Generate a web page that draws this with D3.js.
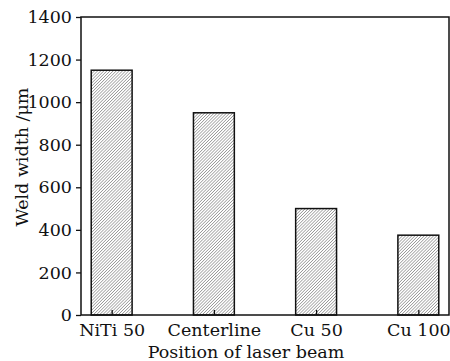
<!DOCTYPE html>
<html>
<head>
<meta charset="utf-8">
<script src="https://cdn.jsdelivr.net/npm/d3@7"></script>
<style>
  body { margin: 0; background: #fff; }
  text { font-family: "DejaVu Serif", serif; fill: #111; }
</style>
</head>
<body>
<svg id="chart" width="450" height="361"></svg>
<script>
// data
var categories = ["NiTi 50", "Centerline", "Cu 50", "Cu 100"];
var weldWidth = [1150, 950, 500, 375];
var yTicks = [0, 200, 400, 600, 800, 1000, 1200, 1400];

var svg = d3.select("#chart");

var plotLeft = 81, plotRight = 449, plotTop = 17, plotBottom = 315;
var fontSize = 17.5;

var xScale = d3.scalePoint()
    .domain(categories)
    .range([plotLeft, plotRight])
    .padding(0.3);

var yScale = d3.scaleLinear()
    .domain([0, 1400])
    .range([plotBottom, plotTop]);

var barWidth = xScale.step() * 0.4;

// hatch pattern, dense "/" lines
var defs = svg.append("defs");
defs.append("pattern")
    .attr("id", "hatch")
    .attr("patternUnits", "userSpaceOnUse")
    .attr("width", 2.2)
    .attr("height", 4)
    .attr("patternTransform", "rotate(45)")
    .append("line")
    .attr("x1", 0).attr("y1", 0)
    .attr("x2", 0).attr("y2", 4)
    .attr("stroke", "#555")
    .attr("stroke-width", 0.9);

// bars
svg.selectAll("rect.bar")
    .data(weldWidth)
    .enter()
    .append("rect")
    .attr("class", "bar")
    .attr("x", function (d, i) { return xScale(categories[i]) - barWidth / 2; })
    .attr("y", function (d) { return yScale(d); })
    .attr("width", barWidth)
    .attr("height", function (d) { return yScale(0) - yScale(d); })
    .attr("fill", "url(#hatch)")
    .attr("stroke", "#111")
    .attr("stroke-width", 1.5);

// y axis
var yAxis = svg.append("g")
    .attr("transform", "translate(" + plotLeft + ",0)")
    .call(d3.axisLeft(yScale).tickValues(yTicks).tickFormat(d3.format("d"))
        .tickSize(5).tickSizeOuter(0).tickPadding(4));
yAxis.select(".domain").remove();
yAxis.selectAll("line").attr("stroke", "#111").attr("stroke-width", 1.3);
yAxis.selectAll("text")
    .style("font-family", "'DejaVu Serif', serif")
    .style("font-size", fontSize + "px")
    .attr("fill", "#111");

// x axis (ticks point inward)
var xAxis = svg.append("g")
    .attr("transform", "translate(0," + plotBottom + ")")
    .call(d3.axisBottom(xScale).tickSize(-5).tickSizeOuter(0).tickPadding(9));
xAxis.select(".domain").remove();
xAxis.selectAll("line").attr("stroke", "#111").attr("stroke-width", 1.3);
xAxis.selectAll("text")
    .style("font-family", "'DejaVu Serif', serif")
    .style("font-size", fontSize + "px")
    .attr("fill", "#111");

// frame
svg.append("rect")
    .attr("x", plotLeft)
    .attr("y", plotTop)
    .attr("width", plotRight - plotLeft)
    .attr("height", plotBottom - plotTop)
    .attr("fill", "none")
    .attr("stroke", "#111")
    .attr("stroke-width", 1.5);

// axis titles
svg.append("text")
    .attr("x", (plotLeft + plotRight) / 2 - 19)
    .attr("y", 358)
    .attr("text-anchor", "middle")
    .style("font-size", fontSize + "px")
    .text("Position of laser beam");

svg.append("text")
    .attr("transform", "translate(28," + 157 + ") rotate(-90)")
    .attr("text-anchor", "middle")
    .style("font-size", fontSize + "px")
    .text("Weld width /\u03bcm");
</script>
</body>
</html>
